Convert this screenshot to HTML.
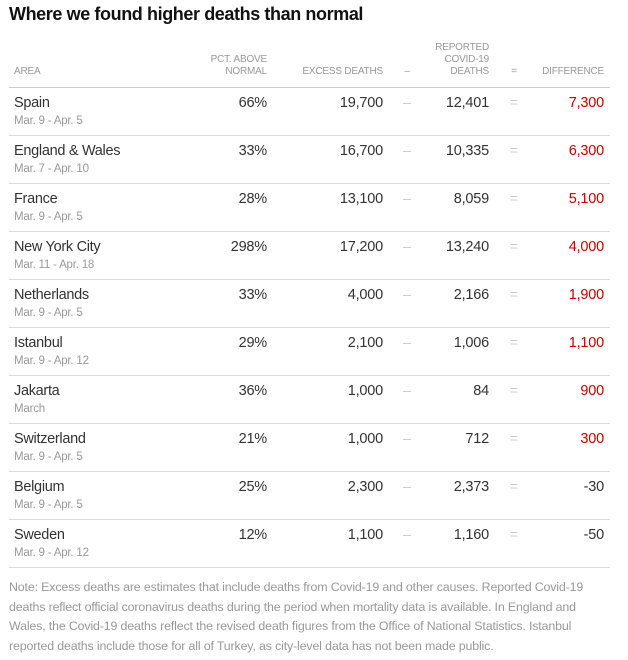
<!DOCTYPE html>
<html><head><meta charset="utf-8"><style>
body{margin:0;background:#fff;width:628px;height:660px;position:relative;font-family:"Liberation Sans",sans-serif;overflow:hidden}
.t{position:absolute;left:9px;top:4px;font-size:18px;font-weight:bold;color:#121212;letter-spacing:-0.4px}
.h{position:absolute;font-size:10px;color:#999;text-align:right;line-height:12px;letter-spacing:-0.2px}
.line{position:absolute;left:9px;width:601px;height:1px;background:#ddd}
.r{position:absolute;left:0;width:628px;height:48px}
.n{position:absolute;left:14px;top:7px;font-size:14.5px;color:#333;letter-spacing:-0.3px}
.d{position:absolute;left:14px;top:27px;font-size:11.5px;color:#999;letter-spacing:-0.2px}
.v{position:absolute;top:7px;font-size:14.5px;color:#333;text-align:right;width:100px;letter-spacing:-0.2px}
.op{position:absolute;top:6px;font-size:14px;color:#ccc;width:20px;text-align:center}
.red{color:#c00}
.note{position:absolute;left:9px;top:578px;width:588px;font-size:12.4px;line-height:19.5px;color:#999;letter-spacing:-0.15px}
</style></head><body>
<div class="t">Where we found higher deaths than normal</div>
<div class="h" style="left:14px;top:66px;text-align:left">AREA</div>
<div class="h" style="left:167px;top:54px;width:100px">PCT. ABOVE<br>NORMAL</div>
<div class="h" style="left:263px;top:66px;width:120px">EXCESS DEATHS</div>
<div class="h" style="left:397px;top:66px;width:20px;text-align:center">–</div>
<div class="h" style="left:389px;top:42px;width:100px">REPORTED<br>COVID-19<br>DEATHS</div>
<div class="h" style="left:504px;top:66px;width:20px;text-align:center">=</div>
<div class="h" style="left:504px;top:66px;width:100px">DIFFERENCE</div>
<div class="line" style="top:87px;background:#ccc"></div>

<div class="r" style="top:88px"><div class="n">Spain</div><div class="d">Mar. 9 - Apr. 5</div><div class="v" style="left:167px">66%</div><div class="v" style="left:283px">19,700</div><div class="op" style="left:397px">–</div><div class="v" style="left:389px">12,401</div><div class="op" style="left:504px">=</div><div class="v red" style="left:504px">7,300</div></div>
<div class="line" style="top:135px"></div>
<div class="r" style="top:136px"><div class="n">England &amp; Wales</div><div class="d">Mar. 7 - Apr. 10</div><div class="v" style="left:167px">33%</div><div class="v" style="left:283px">16,700</div><div class="op" style="left:397px">–</div><div class="v" style="left:389px">10,335</div><div class="op" style="left:504px">=</div><div class="v red" style="left:504px">6,300</div></div>
<div class="line" style="top:183px"></div>
<div class="r" style="top:184px"><div class="n">France</div><div class="d">Mar. 9 - Apr. 5</div><div class="v" style="left:167px">28%</div><div class="v" style="left:283px">13,100</div><div class="op" style="left:397px">–</div><div class="v" style="left:389px">8,059</div><div class="op" style="left:504px">=</div><div class="v red" style="left:504px">5,100</div></div>
<div class="line" style="top:231px"></div>
<div class="r" style="top:232px"><div class="n">New York City</div><div class="d">Mar. 11 - Apr. 18</div><div class="v" style="left:167px">298%</div><div class="v" style="left:283px">17,200</div><div class="op" style="left:397px">–</div><div class="v" style="left:389px">13,240</div><div class="op" style="left:504px">=</div><div class="v red" style="left:504px">4,000</div></div>
<div class="line" style="top:279px"></div>
<div class="r" style="top:280px"><div class="n">Netherlands</div><div class="d">Mar. 9 - Apr. 5</div><div class="v" style="left:167px">33%</div><div class="v" style="left:283px">4,000</div><div class="op" style="left:397px">–</div><div class="v" style="left:389px">2,166</div><div class="op" style="left:504px">=</div><div class="v red" style="left:504px">1,900</div></div>
<div class="line" style="top:327px"></div>
<div class="r" style="top:328px"><div class="n">Istanbul</div><div class="d">Mar. 9 - Apr. 12</div><div class="v" style="left:167px">29%</div><div class="v" style="left:283px">2,100</div><div class="op" style="left:397px">–</div><div class="v" style="left:389px">1,006</div><div class="op" style="left:504px">=</div><div class="v red" style="left:504px">1,100</div></div>
<div class="line" style="top:375px"></div>
<div class="r" style="top:376px"><div class="n">Jakarta</div><div class="d">March</div><div class="v" style="left:167px">36%</div><div class="v" style="left:283px">1,000</div><div class="op" style="left:397px">–</div><div class="v" style="left:389px">84</div><div class="op" style="left:504px">=</div><div class="v red" style="left:504px">900</div></div>
<div class="line" style="top:423px"></div>
<div class="r" style="top:424px"><div class="n">Switzerland</div><div class="d">Mar. 9 - Apr. 5</div><div class="v" style="left:167px">21%</div><div class="v" style="left:283px">1,000</div><div class="op" style="left:397px">–</div><div class="v" style="left:389px">712</div><div class="op" style="left:504px">=</div><div class="v red" style="left:504px">300</div></div>
<div class="line" style="top:471px"></div>
<div class="r" style="top:472px"><div class="n">Belgium</div><div class="d">Mar. 9 - Apr. 5</div><div class="v" style="left:167px">25%</div><div class="v" style="left:283px">2,300</div><div class="op" style="left:397px">–</div><div class="v" style="left:389px">2,373</div><div class="op" style="left:504px">=</div><div class="v" style="left:504px">-30</div></div>
<div class="line" style="top:519px"></div>
<div class="r" style="top:520px"><div class="n">Sweden</div><div class="d">Mar. 9 - Apr. 12</div><div class="v" style="left:167px">12%</div><div class="v" style="left:283px">1,100</div><div class="op" style="left:397px">–</div><div class="v" style="left:389px">1,160</div><div class="op" style="left:504px">=</div><div class="v" style="left:504px">-50</div></div>
<div class="line" style="top:567px"></div>

<div class="note">Note: Excess deaths are estimates that include deaths from Covid-19 and other causes. Reported Covid-19 deaths reflect official coronavirus deaths during the period when mortality data is available. In England and Wales, the Covid-19 deaths reflect the revised death figures from the Office of National Statistics. Istanbul reported deaths include those for all of Turkey, as city-level data has not been made public.</div>
</body></html>
